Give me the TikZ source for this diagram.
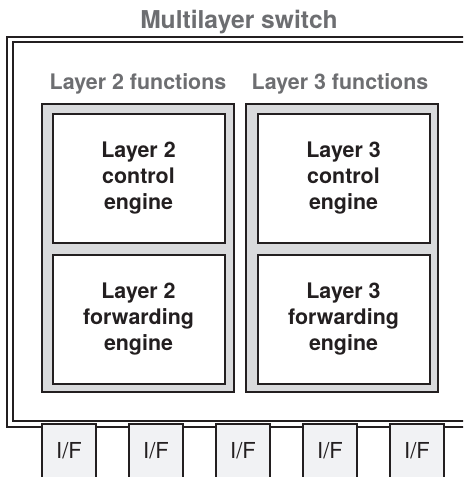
\documentclass[tikz,border=0pt]{standalone}
\usepackage{fontspec}
\setmainfont{TeX Gyre Heros}
\usetikzlibrary{positioning}

\definecolor{inkdark}{HTML}{231F20}
\definecolor{titlegray}{HTML}{6D6E71}
\definecolor{panelgray}{HTML}{D9DADC}
\definecolor{portgray}{HTML}{F1F2F4}

\begin{document}
\begin{tikzpicture}[x=0.5pt,y=-0.5pt,line width=1pt]
  \tikzstyle{heading}=[text=titlegray,anchor=base,inner sep=0pt,
    font=\bfseries\fontsize{10.7}{13}\selectfont]
  \tikzstyle{panel}=[draw=inkdark,fill=panelgray,inner sep=0pt,
    minimum width=96pt,minimum height=144pt]
  \tikzstyle{engine}=[draw=inkdark,fill=white,align=center,text=inkdark,
    minimum width=86pt,minimum height=64.5pt,
    font=\bfseries\fontsize{10.7}{13}\selectfont]
  \tikzstyle{port}=[draw=inkdark,fill=portgray,text=inkdark,anchor=base,
    minimum width=27pt,inner xsep=0pt,inner ysep=0pt,
    text height=17pt,text depth=21pt,font=\fontsize{11}{13}\selectfont]

  \useasboundingbox (0,0) rectangle (463,477);
  \clip (0,0) rectangle (463,477);

  \node[heading,font=\bfseries\fontsize{12.3}{15}\selectfont] (title) at (239,28) {Multilayer switch};

  % switch chassis, double line, runs off the right edge
  \draw[draw=inkdark] (7,37) rectangle (480,427);
  \draw[draw=inkdark] (13,42) rectangle (480,421);

  \node[heading] (l2head) at (138,89) {Layer 2 functions};
  \node[heading] (l3head) at (340,89) {Layer 3 functions};

  \node[panel] (l2grp) at (138,248) {};
  \node[panel] (l3grp) [right=5pt of l2grp] {};

  \node[engine] (l2ctl) at (138.5,178.5) {Layer 2\\control\\engine};
  \node[engine] (l2fwd) [below=5pt of l2ctl] {Layer 2\\forwarding\\engine};
  \node[engine] (l3ctl) [right=15.5pt of l2ctl] {Layer 3\\control\\engine};
  \node[engine] (l3fwd) [below=5pt of l3ctl] {Layer 3\\forwarding\\engine};

  \node[port] (if1) at (69,458) {I/F};
  \node[port] (if2) [right=15.5pt of if1] {I/F};
  \node[port] (if3) [right=15.5pt of if2] {I/F};
  \node[port] (if4) [right=15.5pt of if3] {I/F};
  \node[port] (if5) [right=15.5pt of if4] {I/F};
\end{tikzpicture}
\end{document}
